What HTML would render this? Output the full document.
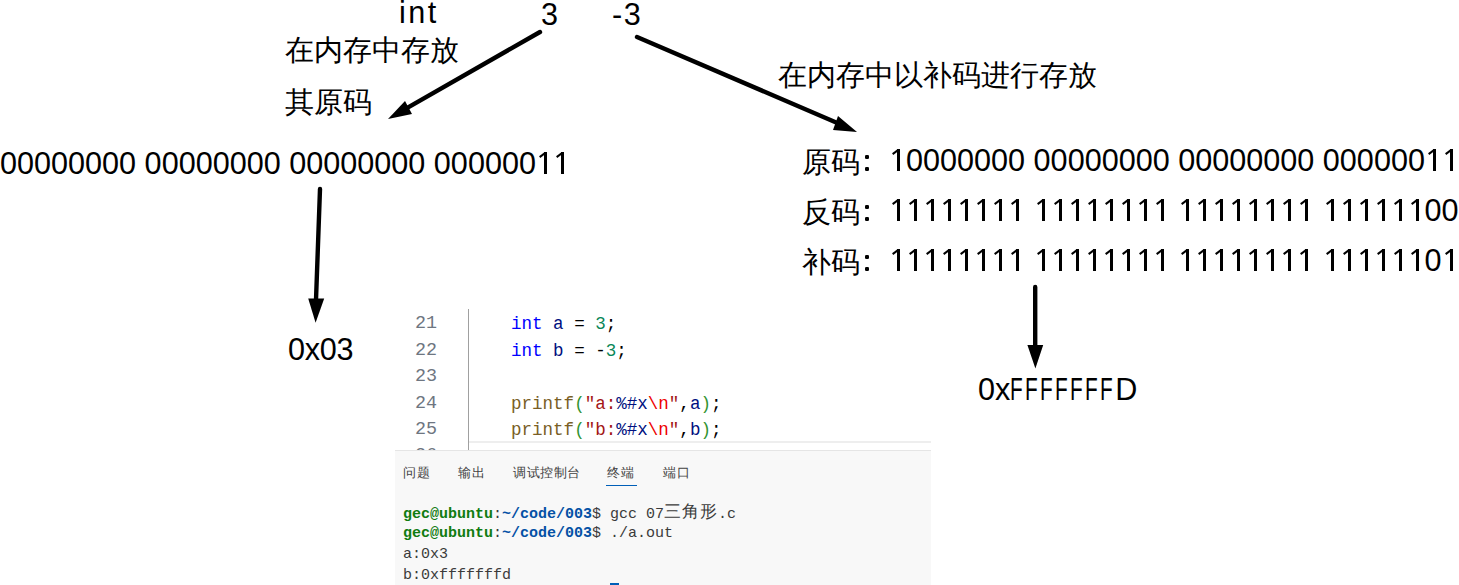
<!DOCTYPE html>
<html><head><meta charset="utf-8">
<style>
html,body{margin:0;padding:0;background:#fff;width:1459px;height:585px;overflow:hidden;position:relative}
.t{position:absolute;white-space:pre;font-kerning:none;font-family:"Liberation Sans",sans-serif;color:#000;line-height:1}
.big{font-size:30.6px}
.F{display:inline-block;width:15px;transform:scaleX(0.68);transform-origin:0 0}
.dot{position:absolute;width:4px;height:4px;background:#000;border-radius:1.2px}
.cj{font-size:29px;font-weight:300}
.m{position:absolute;white-space:pre;font-family:"Liberation Mono",monospace;line-height:1}
svg{position:absolute;left:0;top:0}
#code{position:absolute;left:395px;top:305px;width:536px;height:145px;background:#fff;overflow:hidden}
#term{position:absolute;left:395px;top:450px;width:536px;height:135px;background:#f8f8f8;border-top:1px solid #e5e5e5;box-sizing:border-box;overflow:hidden}
.ln{position:absolute;left:0;width:42px;text-align:right;font-family:"Liberation Mono",monospace;font-size:18.4px;line-height:20px;color:#6e7681;white-space:pre}
.guide{position:absolute;left:73px;top:4px;width:1px;height:141px;background:#a0a0a0}
.hl{position:absolute;left:74px;top:136px;width:462px;height:2px;background:#eeeeee}
.cl{position:absolute;left:116px;font-family:"Liberation Mono",monospace;font-size:17.55px;line-height:20px;color:#000;white-space:pre}
.kw{color:#0000ff}.var{color:#001080}.num{color:#098658}.fn{color:#795e26}.br{color:#319331}.str{color:#a31515}.esc{color:#ee0000}
.tab{position:absolute;top:14px;font-family:"Liberation Sans",sans-serif;font-size:13px;letter-spacing:0.6px;line-height:16px;color:#424242;white-space:pre}
.uline{position:absolute;left:211px;top:34px;width:31px;height:1px;background:#005fb8}
.tl{position:absolute;left:8px;font-family:"Liberation Mono",monospace;font-size:15px;line-height:18px;color:#3b3b3b;white-space:pre}
.g{color:#107c10;font-weight:bold}.bl{color:#0451a5;font-weight:bold}
.cursor{position:absolute;left:215px;top:132px;width:9px;height:3px;background:#005fb8}
.one{display:inline-block;width:17.0136px;height:0;position:relative;font-style:normal}
.one::before{content:"";position:absolute;left:8px;bottom:0;width:3px;height:22px;background:#000}
.one::after{content:"";position:absolute;left:3px;bottom:18.2px;width:7px;height:2.1px;background:#000;transform:rotate(-37deg)}
</style></head><body>
<div class="t big" style="left:399px;top:-3px;letter-spacing:2.5px">int</div>
<div class="t big" style="left:541px;top:-1px">3</div>
<div class="t big" style="left:612px;top:-1px;letter-spacing:1.5px">-3</div>
<div class="t cj" style="left:285px;top:36px">在内存中存放</div>
<div class="t cj" style="left:285px;top:88px">其原码</div>
<div class="t big" style="left:0px;top:148px">00000000 00000000 00000000 000000<i class="one"></i><i class="one"></i></div>
<div class="t cj" style="left:778px;top:61px">在内存中以补码进行存放</div>
<div class="t cj" style="left:802px;top:148px">原码</div><div class="dot" style="left:865px;top:155px"></div><div class="dot" style="left:865px;top:167px"></div>
<div class="t big" style="left:889px;top:145px"><i class="one"></i>0000000 00000000 00000000 000000<i class="one"></i><i class="one"></i></div>
<div class="t cj" style="left:802px;top:198px">反码</div><div class="dot" style="left:865px;top:205px"></div><div class="dot" style="left:865px;top:217px"></div>
<div class="t big" style="left:889px;top:195px"><i class="one"></i><i class="one"></i><i class="one"></i><i class="one"></i><i class="one"></i><i class="one"></i><i class="one"></i><i class="one"></i> <i class="one"></i><i class="one"></i><i class="one"></i><i class="one"></i><i class="one"></i><i class="one"></i><i class="one"></i><i class="one"></i> <i class="one"></i><i class="one"></i><i class="one"></i><i class="one"></i><i class="one"></i><i class="one"></i><i class="one"></i><i class="one"></i> <i class="one"></i><i class="one"></i><i class="one"></i><i class="one"></i><i class="one"></i><i class="one"></i>00</div>
<div class="t cj" style="left:802px;top:248px">补码</div><div class="dot" style="left:865px;top:255px"></div><div class="dot" style="left:865px;top:267px"></div>
<div class="t big" style="left:889px;top:245px"><i class="one"></i><i class="one"></i><i class="one"></i><i class="one"></i><i class="one"></i><i class="one"></i><i class="one"></i><i class="one"></i> <i class="one"></i><i class="one"></i><i class="one"></i><i class="one"></i><i class="one"></i><i class="one"></i><i class="one"></i><i class="one"></i> <i class="one"></i><i class="one"></i><i class="one"></i><i class="one"></i><i class="one"></i><i class="one"></i><i class="one"></i><i class="one"></i> <i class="one"></i><i class="one"></i><i class="one"></i><i class="one"></i><i class="one"></i><i class="one"></i>0<i class="one"></i></div>
<div class="t big" style="left:288px;top:334px;letter-spacing:-0.3px">0x03</div>
<div class="t big" style="left:978px;top:374px">0x<span class="F">F</span><span class="F">F</span><span class="F">F</span><span class="F">F</span><span class="F">F</span><span class="F">F</span><span class="F">F</span>D</div>
<svg width="1459" height="585" viewBox="0 0 1459 585">
<g stroke="#000" stroke-width="4.4" stroke-linecap="round" fill="#000">
<line x1="540" y1="32" x2="402" y2="110.8"/>
<line x1="637" y1="37" x2="842" y2="125"/>
<line x1="320" y1="189" x2="316" y2="300"/>
<line x1="1035.2" y1="287" x2="1035.2" y2="347"/>
</g>
<g fill="#000">
<polygon points="388,119 405,101 412,114"/>
<polygon points="857,132 833,130 838,116"/>
<polygon points="308.2,298.6 324.2,298.6 315.6,322.8"/>
<polygon points="1027.4,345 1043.2,345 1035.4,368.6"/>
</g>
</svg>
<div id="code">
<div class="ln" style="top:9px">21</div>
<div class="ln" style="top:35.6px">22</div>
<div class="ln" style="top:62.2px">23</div>
<div class="ln" style="top:88.7px">24</div>
<div class="ln" style="top:115.3px">25</div>
<div class="ln" style="top:141.2px">26</div>
<div class="guide"></div>
<div class="hl"></div>
<div class="cl" style="top:9px"><span class="kw">int</span> <span class="var">a</span> = <span class="num">3</span>;</div>
<div class="cl" style="top:35.6px"><span class="kw">int</span> <span class="var">b</span> = -<span class="num">3</span>;</div>
<div class="cl" style="top:88.7px"><span class="fn">printf</span><span class="br">(</span><span class="str">"a:</span><span class="var">%#x</span><span class="esc">\n</span><span class="str">"</span>,<span class="var">a</span><span class="br">)</span>;</div>
<div class="cl" style="top:115.3px"><span class="fn">printf</span><span class="br">(</span><span class="str">"b:</span><span class="var">%#x</span><span class="esc">\n</span><span class="str">"</span>,<span class="var">b</span><span class="br">)</span>;</div>
</div>
<div id="term">
<div class="tab" style="left:8px">问题</div>
<div class="tab" style="left:63px">输出</div>
<div class="tab" style="left:118px">调试控制台</div>
<div class="tab act" style="left:212px">终端</div>
<div class="tab" style="left:268px">端口</div>
<div class="uline"></div>
<div class="tl" style="top:53px"><span class="g">gec@ubuntu</span>:<span class="bl">~/code/003</span>$ gcc 07<span style="font-size:17px;letter-spacing:1px;vertical-align:1px;font-weight:300">三角形</span>.c</div>
<div class="tl" style="top:74px"><span class="g">gec@ubuntu</span>:<span class="bl">~/code/003</span>$ ./a.out</div>
<div class="tl" style="top:95px">a:0x3</div>
<div class="tl" style="top:116px">b:0xfffffffd</div>
<div class="cursor"></div>
</div>
</body></html>
